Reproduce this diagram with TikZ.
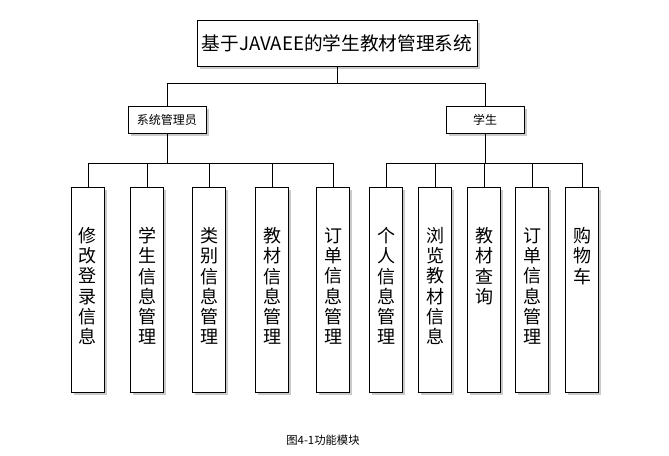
\documentclass[tikz,border=0pt]{standalone}
\usepackage{fontspec}
\setmainfont{Noto Sans CJK SC}
\usetikzlibrary{shadows}
\tikzset{
  box/.style={draw, fill=white, line width=0.5pt, inner sep=0pt,
    drop shadow={shadow xshift=2pt, shadow yshift=-2pt, fill=black!35, opacity=0.6}},
  vtext/.style={align=center, font=\fontsize{13.5}{15.2}\selectfont},
  link/.style={line width=0.7pt}
}
\begin{document}
\begin{tikzpicture}[x=0.75pt,y=0.75pt,yscale=-1,xscale=1]
\useasboundingbox (0,0) rectangle (669,455);

% Top box
\node[box, minimum width=210pt, minimum height=34.5pt, font=\fontsize{14}{16}\selectfont] (sys) at (337,43) {基于JAVAEE的学生教材管理系统};
\coordinate (hub) at (337,83);
\coordinate (hubL) at (167,83);
\coordinate (hubR) at (485,83);

% Second level
\node[box, minimum width=58.5pt, minimum height=20pt, font=\fontsize{9}{11}\selectfont] (admin) at (167,120) {系统管理员};
\node[box, minimum width=58.5pt, minimum height=20pt, font=\fontsize{9}{11}\selectfont] (stu) at (485,120) {学生};

% Admin modules
\foreach \i/\x/\t in {a1/88/修\\改\\登\\录\\信\\息, a2/147/学\\生\\信\\息\\管\\理, a3/209/类\\别\\信\\息\\管\\理, a4/272/教\\材\\信\\息\\管\\理, a5/333/订\\单\\信\\息\\管\\理}{
  \node[box, minimum width=25pt, minimum height=154pt] (\i) at (\x,289.5) {};
  \node[vtext] at (\x,286) {\t};
}
% Student modules
\foreach \i/\x in {s1/386, s2/435, s3/484, s4/532, s5/582}{
  \node[box, minimum width=25pt, minimum height=154pt] (\i) at (\x,289.5) {};
}
\node[vtext] at (386,286) {个\\人\\信\\息\\管\\理};
\node[vtext] at (435,286) {浏\\览\\教\\材\\信\\息};
\node[vtext] at (484,266) {教\\材\\查\\询};
\node[vtext] at (532,286) {订\\单\\信\\息\\管\\理};
\node[vtext] at (582,256) {购\\物\\车};

% Connectors
\draw[link] (sys.south) -- (hub);
\draw[link] (hubL) -- (hubR);
\draw[link] (hubL) -- (admin.north);
\draw[link] (hubR) -- (stu.north);
\draw[link] (admin.south) -- (167,163);
\draw[link] (stu.south) -- (485,163);
\draw[link] (a1.north) |- (a5.north |- 0,163) -- (a5.north);
\foreach \i in {a2,a3,a4}{\draw[link] (\i.north) -- (\i.north |- 0,163);}
\draw[link] (s1.north) |- (s5.north |- 0,163) -- (s5.north);
\foreach \i in {s2,s3,s4}{\draw[link] (\i.north) -- (\i.north |- 0,163);}

% Caption
\node[font=\fontsize{8.5}{10}\selectfont] (cap) at (323,440) {图4-1功能模块};
\end{tikzpicture}
\end{document}
